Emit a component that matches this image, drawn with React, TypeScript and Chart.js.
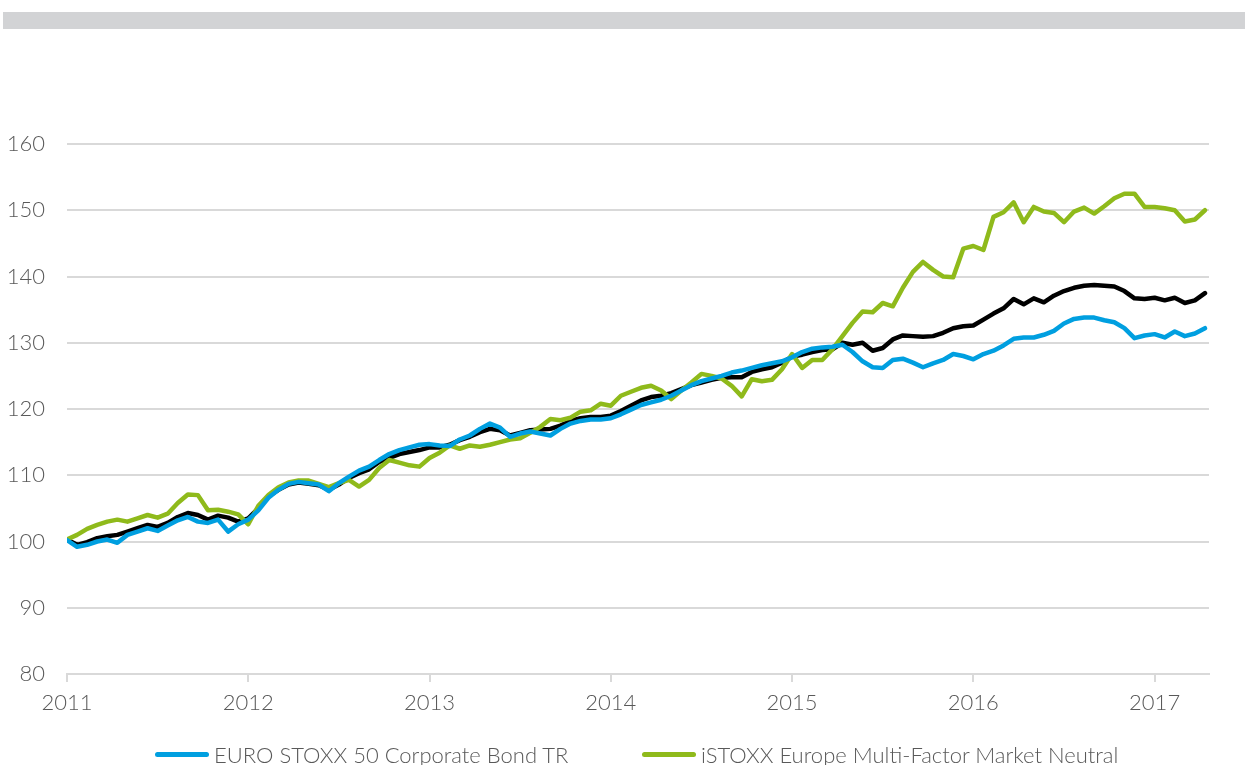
import React, { useEffect, useRef } from "react";
import { Chart, registerables } from "chart.js";

Chart.register(...registerables);

// Sampling: 18 observations per year, starting Jan 2011
const START_YEAR = 2011;
const OBS_PER_YEAR = 18;

const yearTicks = [2011, 2012, 2013, 2014, 2015, 2016, 2017];
const yTicks = [80, 90, 100, 110, 120, 130, 140, 150, 160];

const seriesNames = [
  "EURO STOXX 50 Corporate Bond TR",
  "iSTOXX Europe Multi-Factor Market Neutral",
  "Composite",
];

const corpBond = [
  100.2, 99.2, 99.5, 100.0, 100.3, 99.8, 101.0, 101.5, 102.0, 101.6,
  102.4, 103.2, 103.7, 103.0, 102.8, 103.3, 101.5, 102.6, 103.3, 104.7,
  106.6, 107.8, 108.7, 109.0, 108.8, 108.6, 107.6, 108.8, 109.8, 110.7,
  111.3, 112.3, 113.2, 113.8, 114.2, 114.6, 114.7, 114.5, 114.4, 115.4,
  116.0, 117.0, 117.8, 117.2, 115.8, 116.3, 116.6, 116.3, 116.0, 117.0,
  117.8, 118.2, 118.4, 118.4, 118.6, 119.2, 119.9, 120.6, 121.0, 121.4,
  122.0, 122.8, 123.6, 124.2, 124.6, 125.0, 125.5, 125.8, 126.2, 126.6,
  126.9, 127.2, 127.8, 128.6, 129.1, 129.3, 129.4, 129.7, 128.6, 127.2,
  126.3, 126.2, 127.4, 127.6, 127.0, 126.3, 126.9, 127.4, 128.3, 128.0,
  127.5, 128.3, 128.8, 129.6, 130.6, 130.8, 130.8, 131.2, 131.8, 132.9,
  133.6, 133.8, 133.8, 133.4, 133.1, 132.2, 130.7, 131.1, 131.3, 130.8,
  131.7, 131.0, 131.4, 132.2,
];

const multiFactor = [
  100.3, 101.0, 101.9, 102.5, 103.0, 103.3, 103.0, 103.5, 104.0, 103.6,
  104.2, 105.8, 107.1, 107.0, 104.7, 104.8, 104.5, 104.1, 102.6, 105.4,
  107.0, 108.2, 108.9, 109.2, 109.2, 108.7, 108.2, 108.8, 109.3, 108.3,
  109.3, 111.1, 112.3, 111.9, 111.5, 111.3, 112.6, 113.4, 114.5, 114.0,
  114.5, 114.3, 114.6, 115.0, 115.4, 115.6, 116.4, 117.3, 118.5, 118.3,
  118.7, 119.6, 119.8, 120.8, 120.5, 122.0, 122.6, 123.2, 123.5, 122.8,
  121.5, 122.8, 124.0, 125.3, 125.0, 124.6, 123.5, 121.9, 124.5, 124.2,
  124.4, 126.0, 128.3, 126.2, 127.4, 127.4, 129.0, 131.0, 133.0, 134.7,
  134.6, 136.0, 135.5, 138.3, 140.7, 142.2, 141.0, 140.0, 139.9, 144.2,
  144.6, 144.0, 149.0, 149.7, 151.2, 148.2, 150.5, 149.8, 149.6, 148.2,
  149.8, 150.4, 149.5, 150.6, 151.8, 152.5, 152.5, 150.5, 150.5, 150.3,
  150.0, 148.3, 148.6, 150.0,
];

const composite = [
  100.3, 99.5, 99.9, 100.5, 100.8, 101.0, 101.5, 102.0, 102.5, 102.2,
  102.8, 103.7, 104.3, 104.0, 103.3, 103.9, 103.6, 103.0, 103.5, 105.0,
  106.8, 107.8, 108.6, 108.9, 108.7, 108.5, 107.8, 108.6, 109.6, 110.3,
  110.9, 112.0, 112.6, 113.2, 113.5, 113.8, 114.2, 114.2, 114.6, 115.3,
  115.8, 116.5, 117.0, 116.8, 116.0, 116.4, 116.8, 116.9, 117.0, 117.5,
  118.2, 118.6, 118.8, 118.8, 119.0, 119.7, 120.5, 121.3, 121.8, 122.0,
  122.4, 123.0, 123.6, 124.0, 124.4, 124.7, 124.8, 124.8, 125.6, 126.0,
  126.3, 127.0, 127.9, 128.2, 128.6, 128.9, 129.0, 130.0, 129.7, 130.0,
  128.8, 129.2, 130.5, 131.1, 131.0, 130.9, 131.0, 131.5, 132.2, 132.5,
  132.6, 133.5, 134.4, 135.2, 136.6, 135.8, 136.7, 136.1, 137.1, 137.8,
  138.3, 138.6, 138.7, 138.6, 138.5, 137.8, 136.7, 136.6, 136.8, 136.4,
  136.8, 136.0, 136.4, 137.5,
];

const dates = corpBond.map((_, i) => START_YEAR + i / OBS_PER_YEAR);

const BLUE = "#009fe0";
const GREEN = "#8fba1b";
const BLACK = "#000000";
const GRID = "#d9d9d9";
const TEXT = "#595959";
const FONT = "Lato, 'Open Sans', sans-serif";

export default function App() {
  const canvasRef = useRef<HTMLCanvasElement | null>(null);

  useEffect(() => {
    document.body.style.margin = "0";
    const ctx = canvasRef.current;
    if (!ctx) return;
    const toPts = (vals: number[]) => vals.map((v, i) => ({ x: dates[i], y: v }));
    const chart = new Chart(ctx, {
      type: "line",
      data: {
        datasets: [
          { label: seriesNames[0], data: toPts(corpBond), borderColor: BLUE, backgroundColor: BLUE },
          { label: seriesNames[1], data: toPts(multiFactor), borderColor: GREEN, backgroundColor: GREEN },
          { label: seriesNames[2], data: toPts(composite), borderColor: BLACK, backgroundColor: BLACK },
        ].map((d) => ({
          ...d,
          borderWidth: 4.5,
          pointRadius: 0,
          tension: 0,
          fill: false,
          borderJoinStyle: "round" as const,
          borderCapStyle: "round" as const,
        })),
      },
      options: {
        responsive: false,
        animation: false,
        layout: { padding: { left: 0, right: 36, top: 144, bottom: 41 } },
        plugins: {
          legend: { display: false },
          tooltip: { enabled: false },
        },
        scales: {
          x: {
            type: "linear",
            min: 2011,
            max: 2017.3,
            afterBuildTicks: (scale: any) => {
              scale.ticks = yearTicks.map((v) => ({ value: v }));
            },
            afterFit: (scale: any) => {
              scale.height = 50;
            },
            grid: {
              drawOnChartArea: false,
              drawTicks: true,
              tickLength: 8,
              color: GRID,
              lineWidth: 2,
            },
            border: { display: true, color: GRID, width: 2 },
            ticks: {
              padding: 8,
              color: TEXT,
              font: { family: FONT, size: 22, weight: 300 as any },
              callback: (v: any) => String(v),
              maxRotation: 0,
            },
          },
          y: {
            min: 80,
            max: 160,
            afterBuildTicks: (scale: any) => {
              scale.ticks = yTicks.map((v) => ({ value: v }));
            },
            afterFit: (scale: any) => {
              scale.width = 67;
            },
            grid: { color: GRID, lineWidth: 2, drawTicks: false },
            border: { display: false },
            ticks: {
              padding: 22,
              color: TEXT,
              font: { family: FONT, size: 22, weight: 300 as any },
            },
          },
        },
      },
    });
    return () => chart.destroy();
  }, []);

  const legendItems = [
    { name: seriesNames[0], color: BLUE, left: 155 },
    { name: seriesNames[1], color: GREEN, left: 642 },
  ];

  return (
    <div
      style={{
        position: "fixed",
        left: 0,
        top: 0,
        width: 1245,
        height: 765,
        overflow: "hidden",
        background: "#ffffff",
      }}
    >
      <div
        style={{
          position: "absolute",
          left: 3,
          right: 0,
          top: 12,
          height: 17,
          background: "#d2d3d5",
        }}
      />
      <canvas
        ref={canvasRef}
        width={1245}
        height={765}
        style={{ position: "absolute", left: 0, top: 0, width: 1245, height: 765 }}
      />
      {legendItems.map((it) => (
        <div
          key={it.name}
          style={{
            position: "absolute",
            left: it.left,
            top: 739,
            height: 30,
            display: "flex",
            alignItems: "center",
            fontFamily: FONT,
            fontWeight: 300,
            fontSize: 22,
            color: TEXT,
            whiteSpace: "nowrap",
          }}
        >
          <span
            style={{
              display: "inline-block",
              width: 54,
              height: 5,
              borderRadius: 3,
              background: it.color,
              marginRight: 5,
            }}
          />
          <span>{it.name}</span>
        </div>
      ))}
    </div>
  );
}
